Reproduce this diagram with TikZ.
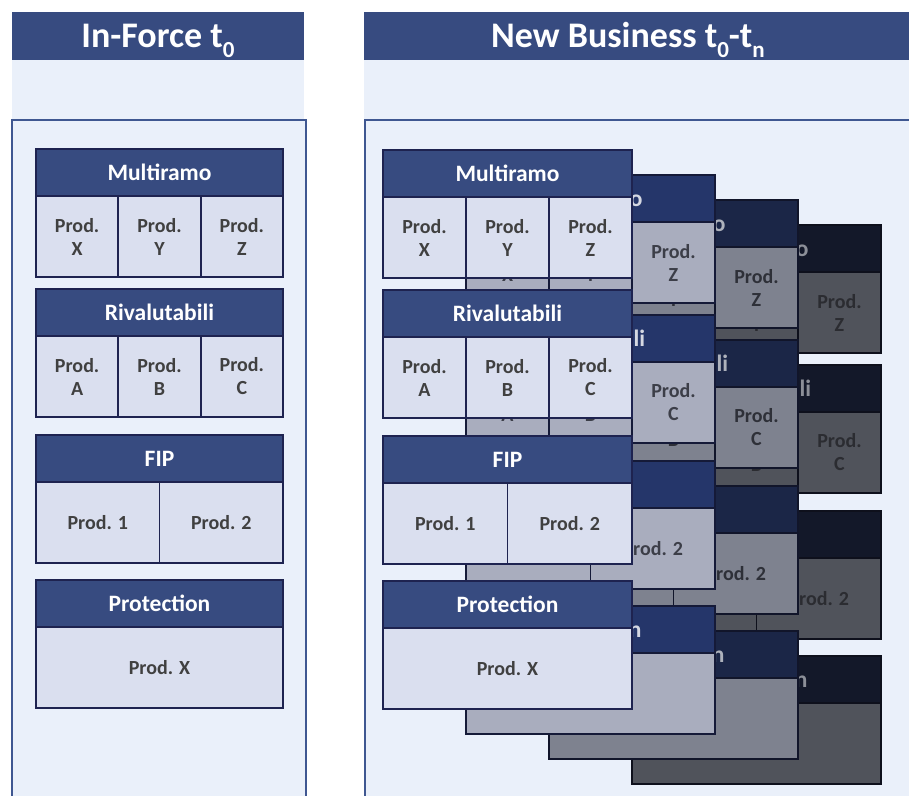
\documentclass[tikz,border=0pt]{standalone}
\usepackage{fontspec}
\setmainfont{Carlito}
\usetikzlibrary{positioning}

\definecolor{navy}{HTML}{374B80}
\definecolor{paleblue}{HTML}{EAF0FA}
\definecolor{panelline}{HTML}{3F5791}
\definecolor{boxline}{HTML}{1E2350}
\definecolor{cellfill}{HTML}{DADFEF}
\definecolor{celltext}{HTML}{404040}

\newcommand{\lowidx}[1]{\raisebox{-0.28em}{\fontsize{23}{23}\selectfont #1}}

% one column of product blocks: suffix, x, y, width, layer
\newcommand{\prodstack}[5]{%
\node[hd#5, minimum width=#4, anchor=north west] (multi#1) at (#2,#3) {Multiramo};
\node[cl#5, minimum width=#4/3, below right=0pt and 0pt of multi#1.south west] (mx#1) {Prod.\\X};
\node[cl#5, minimum width=#4/3, right=0pt of mx#1] (my#1) {Prod.\\Y};
\node[cl#5, minimum width=#4/3, right=0pt of my#1] (mz#1) {Prod.\\Z};
\node[hd#5, minimum width=#4, anchor=north west] (riva#1) at (#2,#3+140) {Rivalutabili};
\node[cl#5, minimum width=#4/3, below right=0pt and 0pt of riva#1.south west] (ra#1) {Prod.\\A};
\node[cl#5, minimum width=#4/3, right=0pt of ra#1] (rb#1) {Prod.\\B};
\node[cl#5, minimum width=#4/3, right=0pt of rb#1] (rc#1) {Prod.\\C};
\node[hd#5, minimum width=#4, anchor=north west] (fip#1) at (#2,#3+286) {FIP};
\node[cl#5, minimum width=#4/2, below right=0pt and 0pt of fip#1.south west] (fa#1) {Prod. 1};
\node[cl#5, minimum width=#4/2, right=0pt of fa#1] (fb#1) {Prod. 2};
\node[hd#5, minimum width=#4, anchor=north west] (prot#1) at (#2,#3+431) {Protection};
\node[cl#5, minimum width=#4, below right=0pt and 0pt of prot#1.south west] (px#1) {Prod. X};
}

\begin{document}
\begin{tikzpicture}[x=1pt, y=-1pt,
  box/.style={rectangle, draw, line width=1.8pt, inner sep=0pt, outer sep=0pt, font=\bfseries},
  hd/.style={box, minimum height=47, font=\fontsize{23.5}{27}\selectfont\bfseries},
  cl/.style={box, minimum height=81, align=center, font=\fontsize{20}{23}\selectfont\bfseries},
  hd0/.style={hd, fill=navy, draw=boxline, text=white},
  cl0/.style={cl, fill=cellfill, draw=boxline, text=celltext},
  hd1/.style={hd, fill={rgb,255:red,37;green,54;blue,106}, draw={rgb,255:red,21;green,26;blue,56}, text={rgb,255:red,213;green,216;blue,226}},
  cl1/.style={cl, fill={rgb,255:red,169;green,173;blue,190}, draw={rgb,255:red,21;green,26;blue,56}, text={rgb,255:red,60;green,62;blue,72}},
  hd2/.style={hd, fill={rgb,255:red,27;green,38;blue,71}, draw={rgb,255:red,17;green,21;blue,42}, text={rgb,255:red,174;green,178;blue,188}},
  cl2/.style={cl, fill={rgb,255:red,126;green,130;blue,143}, draw={rgb,255:red,17;green,21;blue,42}, text={rgb,255:red,46;green,48;blue,56}},
  hd3/.style={hd, fill={rgb,255:red,19;green,24;blue,41}, draw={rgb,255:red,14;green,16;blue,28}, text={rgb,255:red,140;green,143;blue,152}},
  cl3/.style={cl, fill={rgb,255:red,80;green,83;blue,91}, draw={rgb,255:red,14;green,16;blue,28}, text={rgb,255:red,43;green,44;blue,49}},
  titlebar/.style={rectangle, fill=navy, text=white, inner sep=0pt, outer sep=0pt, minimum height=48,
    text height=23, text depth=0pt, font=\fontsize{36}{40}\selectfont\bfseries}]
\useasboundingbox (0,0) rectangle (909,795);
\clip (0,0) rectangle (909,795);
\fill[white] (0,0) rectangle (909,795);

% titles
\node[titlebar, minimum width=292, anchor=north west] (inforce) at (12,12) {In-Force t\lowidx{0}};
\node[titlebar, minimum width=528, anchor=north west] (newbiz) at (364,12) {New Business t\lowidx{0}-t\lowidx{n}};
\fill[navy] (newbiz.north east) rectangle (909,60);
\fill[paleblue] (inforce.south west) rectangle (304,120);
\fill[paleblue] (newbiz.south west) rectangle (909,120);

% panels
\draw[panelline, fill=paleblue, line width=2.5pt] (12,120) rectangle (306,820);
\draw[panelline, fill=paleblue, line width=2.5pt] (365,120) rectangle (940,820);

\prodstack{L}{36}{149}{247}{0}

\prodstack{d}{632}{225}{249}{3}
\prodstack{c}{549}{200}{249}{2}
\prodstack{b}{466}{175}{249}{1}
\prodstack{a}{383}{150}{249}{0}

\end{tikzpicture}
\end{document}
